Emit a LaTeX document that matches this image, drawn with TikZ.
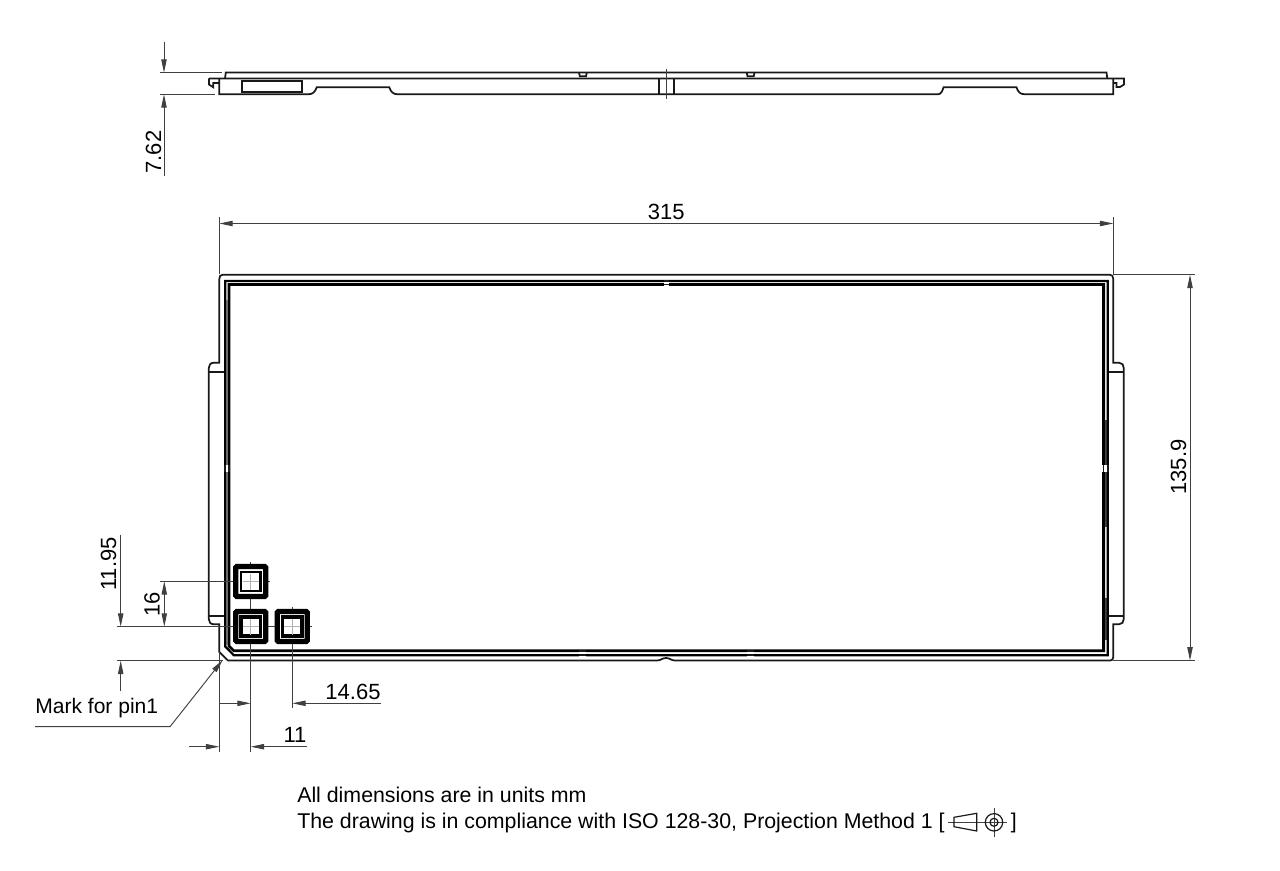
\documentclass[tikz,border=0pt]{standalone}
\usepackage{fontspec}
\setmainfont{Liberation Sans}
\usetikzlibrary{arrows.meta}
\tikzset{
	part/.style={line width=1.3pt, color=black!90},
	rim/.style={line width=1.7pt, color=black},
	thinline/.style={line width=0.7pt, color=black!75},
	dimline/.style={thinline, -{Triangle[length=10pt,width=4pt]}},
	bothline/.style={thinline, {Triangle[length=10pt,width=4pt]}-{Triangle[length=10pt,width=4pt]}},
	dimtext/.style={font=\fontsize{16.5}{19}\selectfont, inner sep=0pt},
	notetext/.style={font=\fontsize{16}{19}\selectfont, inner sep=0pt, anchor=base west},
}
\def\padmark(#1,#2)#3{
	\fill[white] (#1-14, #2-14) rectangle (#1+14, #2+14);
	\draw[line width=3.9pt] (#1-14, #2-15) -- (#1+14, #2-15) -- (#1+15, #2-14) -- (#1+15, #2+14) -- (#1+14, #2+15) -- (#1-14, #2+15) -- (#1-15, #2+14) -- (#1-15, #2-14) -- cycle;
	\draw[line width=#3] (#1-9.7, #2-9.7) rectangle (#1+9.7, #2+9.7);
	\draw[line width=0.4pt, color=black!30] (#1-8, #2) -- (#1+8, #2);
	\draw[line width=0.4pt, color=black!30] (#1, #2-8) -- (#1, #2+8);
}
\begin{document}
\begin{tikzpicture}[x=0.75pt, y=-0.75pt]
			%%%%% START %%%%%
			\useasboundingbox (0, 0) rectangle (1280, 870);
			
			% side view
			\draw[part] (225, 78.5) -- (225.8, 72.5) -- (1106.5, 72.5) -- (1107.3, 78.5);
			\draw[part] (209, 78.5) -- (1124, 78.5) -- (1124, 84.5) -- (1120, 87) -- (1116.5, 87) -- (1116.5, 83) -- (1113.3, 83);
			\draw[part] (209, 78.5) -- (209, 84.5) -- (213.3, 87.3) -- (213.3, 83) -- (219.3, 83);
			\draw[part] (219.3, 78.5) -- (219.3, 94.3) -- (308, 94.3) .. controls (313, 94.3) and (315, 92) .. (316.7, 87.3) -- (389.3, 87.3) .. controls (391, 92) and (393, 94.3) .. (398, 94.3) -- (938, 94.3) .. controls (941, 94.3) and (942.5, 91) .. (943.5, 87.3) -- (1016.5, 87.3) .. controls (1018, 92) and (1020, 94.3) .. (1025, 94.3) -- (1113.3, 94.3) -- (1113.3, 78.5);
			\draw[part] (241.7, 80.7) rectangle (302, 91.7);
			\draw[part] (579, 72.5) -- (579.8, 76.3) -- (586, 76.3) -- (586.8, 72.5);
			\draw[part] (746.7, 72.5) -- (747.5, 76.3) -- (753.7, 76.3) -- (754.5, 72.5);
			\draw[part] (658.7, 78.5) -- (658.7, 94.3);
			\draw[part] (673.7, 78.5) -- (673.7, 94.3);
			\draw[thinline] (666.3, 69) -- (666.3, 99);
			
			\draw[thinline] (160, 72.7) -- (221.7, 72.7);
			\draw[thinline] (160, 94.3) -- (215, 94.3);
			\draw[dimline] (164, 41.7) -- (164, 72.7);
			\draw[dimline] (164, 176) -- (164, 94.3);
			\node[dimtext, rotate=90] (heightlabel) at (153.5, 152) {7.62};
			
			% top view
			\fill[black!35] (225.2, 300) rectangle (229, 645);
			\fill[black!70] (1103.6, 420) rectangle (1107.8, 526.7);
			\fill[black!70] (1103.6, 598) rectangle (1107.8, 640);
			
			\draw[part] (228, 660.5) -- (219.3, 652) -- (219.3, 624.3) -- (214, 624.3) .. controls (210.5, 624.3) and (208.8, 622) .. (208.8, 619) -- (208.8, 368) .. controls (208.8, 365) and (210.5, 362.7) .. (214, 362.7) -- (219.3, 362.7) -- (219.3, 279) .. controls (219.3, 276) and (220.5, 274.7) .. (223, 274.7) -- (1109.5, 274.7) .. controls (1112, 274.7) and (1113.3, 276) .. (1113.3, 279) -- (1113.3, 362.7) -- (1119, 362.7) .. controls (1122, 362.7) and (1123.8, 365) .. (1123.8, 368) -- (1123.8, 619) .. controls (1123.8, 622) and (1122, 624.3) .. (1119, 624.3) -- (1113.3, 624.3) -- (1113.3, 657) .. controls (1113.3, 659.5) and (1112, 660.5) .. (1110, 660.5) -- (675, 660.5) .. controls (671, 660.5) and (670, 658) .. (666, 658) .. controls (662, 658) and (661, 660.5) .. (657, 660.5) -- cycle;
			\draw[part] (208.8, 371.7) -- (225, 371.7);
			\draw[part] (1107.8, 371.7) -- (1123.8, 371.7);
			\draw[part] (208.8, 616.2) -- (225, 616.2);
			\draw[part] (1107.8, 616.2) -- (1123.8, 616.2);
			
			\draw[rim] (225.2, 280.9) -- (1107.8, 280.9) -- (1107.8, 655.2) -- (233.8, 655.2) -- (225.2, 646.5) -- cycle;
			\draw[rim, line width=2.1pt] (229, 284.5) -- (1103.6, 284.5) -- (1103.6, 650.8) -- (233.8, 650.8) -- (229, 646) -- cycle;
			
			% small gaps in the rim
			\fill[white] (663.5, 279.5) rectangle (669, 286);
			\draw[part] (663.5, 281) -- (669, 281);
			\draw[part] (663.5, 284.5) -- (669, 284.5);
			\fill[white] (223.8, 465) rectangle (230.4, 471.5);
			\draw[part] (225.2, 465) -- (225.2, 471.5);
			\draw[part] (229, 465) -- (229, 471.5);
			\fill[white] (1102.2, 465) rectangle (1109.2, 471.5);
			\draw[part] (1103.6, 465) -- (1103.6, 471.5);
			\draw[part] (1107.8, 465) -- (1107.8, 471.5);
			\fill[white] (579, 649.5) rectangle (585.7, 656.5);
			\draw[part] (579, 650.8) -- (585.7, 650.8);
			\draw[part] (579, 655.2) -- (585.7, 655.2);
			\fill[white] (747, 649.5) rectangle (753.7, 656.5);
			\draw[part] (747, 650.8) -- (753.7, 650.8);
			\draw[part] (747, 655.2) -- (753.7, 655.2);
			
			% overall dimensions
			\draw[thinline] (219.3, 217) -- (219.3, 274);
			\draw[thinline] (1113.3, 217) -- (1113.3, 274);
			\draw[bothline] (219.3, 223.5) -- (1113.3, 223.5);
			\node[dimtext] (widthlabel) at (666.3, 212) {315};
			\draw[thinline] (1113.3, 274.7) -- (1195, 274.7);
			\draw[thinline] (1113.3, 660.5) -- (1195, 660.5);
			\draw[bothline] (1190, 274.7) -- (1190, 660.5);
			\node[dimtext, rotate=90] (depthlabel) at (1178.5, 467) {135.9};
			
			% pad dimensions
			\draw[thinline] (116.7, 626.7) -- (311.7, 626.7);
			\draw[thinline] (116.7, 660.7) -- (223, 660.7);
			\draw[thinline] (160, 581.2) -- (270, 581.2);
			\draw[dimline] (120.7, 534.7) -- (120.7, 626.7);
			\draw[dimline] (120.7, 691) -- (120.7, 660.7);
			\node[dimtext, rotate=90] (marginlabel) at (108.5, 564) {11.95};
			\draw[bothline] (164.3, 581.2) -- (164.3, 626.7);
			\node[dimtext, rotate=90] (pitchlabel) at (152, 604) {16};
			
			\draw[thinline] (219.3, 652) -- (219.3, 751.7);
			\draw[thinline] (250.7, 561.5) -- (250.7, 751.7);
			\draw[thinline] (292.3, 606.5) -- (292.3, 708.3);
			\draw[dimline] (219.3, 703.3) -- (250.7, 703.3);
			\draw[dimline] (381, 703.3) -- (292.3, 703.3);
			\node[dimtext] (pitchxlabel) at (353, 692) {14.65};
			\draw[dimline] (189, 746.7) -- (219.3, 746.7);
			\draw[dimline] (307.3, 746.7) -- (250.7, 746.7);
			\node[dimtext] (offsetlabel) at (295, 735) {11};
			
			\padmark(250.7, 581.5){1.9pt}
			\padmark(250.7, 626.5){2.6pt}
			\padmark(292.3, 626.5){2.6pt}
			
			% pin mark
			\node[dimtext, anchor=west, font=\fontsize{15.8}{19}\selectfont] (pinlabel) at (35, 708) {Mark for pin1};
			\draw[dimline] (35, 726.7) -- (170, 726.7) -- (222.7, 660);
			
			% notes
			\node[notetext] (noteone) at (297, 802) {All dimensions are in units mm};
			\node[notetext] (notetwo) at (297, 828) {The drawing is in compliance with ISO 128-30, Projection Method 1 [};
			\node[notetext] (notetwoend) at (1010.7, 828) {]};
			
			% projection symbol
			\draw[thinline] (948.3, 822.3) -- (1007.3, 822.3);
			\draw[thinline] (994, 808.3) -- (994, 836.7);
			\draw[part, line width=0.9pt] (954, 817.3) -- (976.7, 813.3) -- (976.7, 831) -- (954, 826.7) -- cycle;
			\draw[part, line width=0.9pt] (994, 822.3) circle (8.7);
			\draw[part, line width=0.9pt] (994, 822.3) circle (4);
			%%%%% END %%%%%
		\end{tikzpicture}
\end{document}
